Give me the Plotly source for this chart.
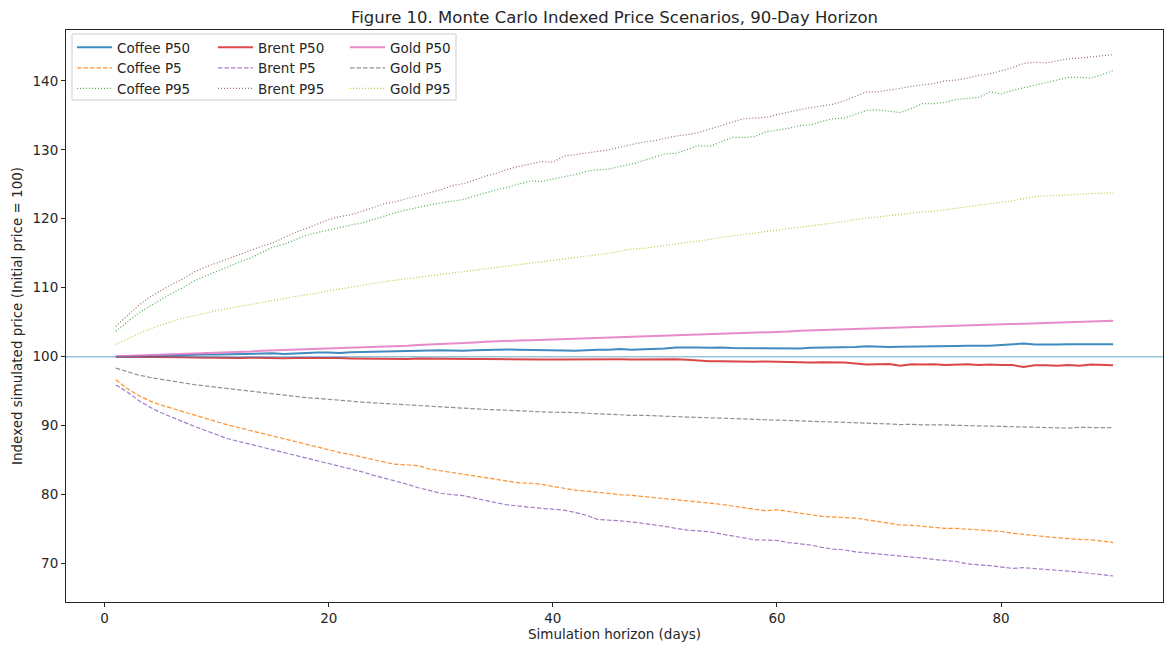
import plotly.graph_objects as go

days = list(range(1, 91))

coffee_p50 = [100.0, 100.05, 100.1, 100.1, 100.15, 100.2, 100.2, 100.25, 100.3, 100.3,
              100.35, 100.4, 100.4, 100.45, 100.5, 100.4, 100.5, 100.55, 100.6, 100.6,
              100.55, 100.65, 100.7, 100.7, 100.75, 100.8, 100.8, 100.85, 100.9, 100.95,
              100.9, 100.85, 100.95, 101.0, 101.0, 101.05, 101.0, 101.0, 100.95, 100.9,
              100.9, 100.85, 100.95, 101.0, 101.0, 101.1, 101.0, 101.05, 101.1, 101.2,
              101.35, 101.4, 101.35, 101.3, 101.35, 101.25, 101.25, 101.15, 101.15, 101.2,
              101.25, 101.2, 101.3, 101.3, 101.4, 101.3, 101.4, 101.5, 101.4, 101.4,
              101.45, 101.45, 101.5, 101.5, 101.5, 101.55, 101.6, 101.55, 101.6, 101.7,
              101.8, 101.9, 101.75, 101.7, 101.75, 101.8, 101.8, 101.75, 101.8, 101.8]
coffee_p5 = [96.65, 95.4, 94.4, 93.6, 93.0, 92.5, 92.0, 91.5, 91.0, 90.5,
             90.1, 89.7, 89.3, 88.9, 88.5, 88.1, 87.7, 87.3, 86.9, 86.4,
             86.1, 85.8, 85.4, 85.0, 84.7, 84.4, 84.3, 84.2, 83.7, 83.45,
             83.2, 82.9, 82.7, 82.45, 82.2, 82.0, 81.7, 81.65, 81.5, 81.2,
             80.9, 80.65, 80.5, 80.3, 80.2, 80.0, 79.9, 79.75, 79.6, 79.4,
             79.3, 79.1, 78.95, 78.8, 78.6, 78.35, 78.15, 77.85, 77.65, 77.8,
             77.55, 77.3, 77.05, 76.85, 76.75, 76.7, 76.6, 76.35, 76.1, 75.8,
             75.6, 75.55, 75.4, 75.15, 75.1, 75.1, 75.0, 74.9, 74.85, 74.65,
             74.4, 74.2, 74.0, 73.9, 73.75, 73.6, 73.5, 73.45, 73.25, 73.05]
coffee_p95 = [103.7, 105.0, 106.3, 107.3, 108.3, 109.2, 110.0, 111.0, 111.7, 112.4,
              113.1, 113.7, 114.3, 115.1, 115.9, 116.3, 117.0, 117.6, 118.0, 118.4,
              118.8, 119.1, 119.4, 119.9, 120.5, 120.9, 121.3, 121.7, 122.0, 122.3,
              122.5, 122.8, 123.3, 123.8, 124.2, 124.6, 125.0, 125.5, 125.4, 125.8,
              126.1, 126.4, 126.9, 127.1, 127.2, 127.6, 127.9, 128.4, 128.9, 129.4,
              129.5, 130.0, 130.6, 130.5, 131.1, 131.8, 131.8, 131.9, 132.6, 132.8,
              133.1, 133.5, 133.6, 134.1, 134.5, 134.6, 135.1, 135.7, 135.8, 135.6,
              135.4, 136.0, 136.7, 136.7, 136.9, 137.3, 137.5, 137.6, 138.4, 138.1,
              138.6, 139.0, 139.3, 139.8, 140.1, 140.5, 140.5, 140.4, 140.9, 141.5]
brent_p50 = [100.0, 100.0, 99.98, 99.95, 99.95, 99.9, 99.92, 99.88, 99.85, 99.87,
             99.85, 99.82, 99.85, 99.8, 99.82, 99.78, 99.8, 99.82, 99.75, 99.78,
             99.8, 99.75, 99.72, 99.76, 99.7, 99.72, 99.68, 99.72, 99.7, 99.65,
             99.68, 99.7, 99.65, 99.68, 99.66, 99.55, 99.6, 99.62, 99.58, 99.6,
             99.62, 99.58, 99.6, 99.65, 99.6, 99.62, 99.6, 99.63, 99.58, 99.65,
             99.62, 99.55, 99.4, 99.35, 99.35, 99.3, 99.32, 99.28, 99.32, 99.25,
             99.2, 99.22, 99.15, 99.2, 99.22, 99.15, 99.0, 98.85, 98.9, 98.95,
             98.7, 98.9, 98.85, 98.9, 98.8, 98.85, 98.9, 98.8, 98.85, 98.78,
             98.8, 98.5, 98.75, 98.75, 98.7, 98.8, 98.7, 98.85, 98.75, 98.75]
brent_p5 = [95.9, 94.9, 93.7, 92.7, 91.9, 91.2, 90.5, 89.9, 89.3, 88.7,
            88.1, 87.7, 87.3, 86.9, 86.5, 86.1, 85.7, 85.3, 84.9, 84.5,
            84.1, 83.8, 83.3, 82.8, 82.4, 82.0, 81.5, 81.0, 80.6, 80.2,
            80.0, 79.85, 79.5, 79.1, 78.8, 78.5, 78.3, 78.1, 78.0, 77.9,
            77.75, 77.4, 77.0, 76.4, 76.35, 76.2, 76.05, 75.85, 75.6, 75.4,
            75.1, 74.85, 74.75, 74.6, 74.3, 74.0, 73.7, 73.45, 73.4, 73.35,
            73.05, 72.85, 72.7, 72.35, 72.1, 72.0, 71.7, 71.55, 71.4, 71.25,
            71.2, 71.0, 70.8, 70.6, 70.5, 70.3, 69.95, 69.85, 69.7, 69.5,
            69.3, 69.4, 69.3, 69.15, 69.1, 68.9, 68.75, 68.6, 68.4, 68.2]
brent_p95 = [104.4, 105.9, 107.4, 108.6, 109.6, 110.5, 111.3, 112.3, 113.0, 113.6,
             114.3, 114.9, 115.4, 116.0, 116.5, 117.3, 118.0, 118.6, 119.3, 119.9,
             120.3, 120.6, 121.1, 121.6, 122.2, 122.5, 122.9, 123.3, 123.8, 124.2,
             124.8, 125.1, 125.6, 126.2, 126.6, 127.2, 127.6, 128.0, 128.3, 128.2,
             129.1, 129.3, 129.5, 129.8, 130.0, 130.4, 130.8, 131.1, 131.3, 131.7,
             132.0, 132.2, 132.5, 133.0, 133.5, 134.0, 134.5, 134.6, 134.7, 135.1,
             135.5, 135.8, 136.1, 136.3, 136.6, 137.1, 137.8, 138.4, 138.4, 138.6,
             138.9, 139.2, 139.4, 139.6, 140.0, 140.1, 140.4, 140.8, 141.0, 141.4,
             141.9, 142.5, 142.7, 142.6, 142.9, 143.2, 143.3, 143.5, 143.6, 143.8]
gold_p50 = [100.05, 100.1, 100.2, 100.25, 100.3, 100.35, 100.4, 100.5, 100.55, 100.6,
            100.65, 100.7, 100.75, 100.85, 100.9, 100.95, 101.05, 101.1, 101.15, 101.2,
            101.25, 101.3, 101.35, 101.45, 101.5, 101.55, 101.6, 101.7, 101.75, 101.8,
            101.85, 101.95, 102.05, 102.15, 102.25, 102.3, 102.35, 102.4, 102.45, 102.5,
            102.55, 102.6, 102.65, 102.7, 102.75, 102.85, 102.95, 103.0, 103.05, 103.1,
            103.15, 103.2, 103.25, 103.3, 103.35, 103.4, 103.45, 103.5, 103.55, 103.6,
            103.65, 103.75, 103.8, 103.85, 103.9, 103.95, 104.0, 104.05, 104.1, 104.2,
            104.25, 104.3, 104.35, 104.4, 104.45, 104.5, 104.55, 104.6, 104.65, 104.7,
            104.75, 104.8, 104.85, 104.9, 104.95, 105.0, 105.05, 105.1, 105.15, 105.2]
gold_p5 = [98.35, 97.8, 97.35, 97.0, 96.7, 96.45, 96.2, 95.95, 95.75, 95.55,
           95.35, 95.15, 94.95, 94.75, 94.55, 94.4, 94.2, 94.05, 93.95, 93.85,
           93.7, 93.55, 93.4, 93.3, 93.2, 93.05, 92.95, 92.85, 92.75, 92.65,
           92.6, 92.5, 92.4, 92.35, 92.3, 92.2, 92.15, 92.1, 92.0, 91.95,
           91.95, 91.9, 91.8, 91.7, 91.65, 91.55, 91.5, 91.5, 91.4, 91.35,
           91.3, 91.25, 91.2, 91.15, 91.1, 91.05, 90.95, 90.9, 90.8, 90.8,
           90.75, 90.75, 90.7, 90.65, 90.6, 90.55, 90.5, 90.4, 90.3, 90.25,
           90.15, 90.2, 90.1, 90.15, 90.1, 90.05, 90.0, 89.95, 89.9, 89.85,
           89.85, 89.85, 89.75, 89.65, 89.6, 89.65, 89.75, 89.75, 89.7, 89.7]
gold_p95 = [101.8, 102.6, 103.3, 104.0, 104.6, 105.1, 105.6, 105.9, 106.3, 106.7,
            107.0, 107.3, 107.6, 107.9, 108.2, 108.4, 108.7, 109.0, 109.2, 109.6,
            109.8, 110.1, 110.4, 110.6, 110.9, 111.1, 111.3, 111.6, 111.8, 111.9,
            112.2, 112.3, 112.5, 112.7, 112.9, 113.1, 113.3, 113.5, 113.8, 114.0,
            114.1, 114.3, 114.5, 114.8, 115.0, 115.3, 115.6, 115.7, 115.9, 116.1,
            116.3, 116.5, 116.8, 117.0, 117.3, 117.5, 117.7, 118.0, 118.2, 118.3,
            118.5, 118.8, 119.0, 119.2, 119.4, 119.6, 119.9, 120.1, 120.3, 120.5,
            120.7, 120.8, 121.0, 121.1, 121.3, 121.5, 121.7, 122.0, 122.2, 122.4,
            122.6, 122.9, 123.2, 123.3, 123.4, 123.4, 123.5, 123.6, 123.7, 123.8]

series = [
    ("Coffee P50", coffee_p50, "#1f77b4", "solid", "legend"),
    ("Coffee P5", coffee_p5, "#ff7f0e", "dashed", "legend"),
    ("Coffee P95", coffee_p95, "#2ca02c", "dotted", "legend"),
    ("Brent P50", brent_p50, "#d62728", "solid", "legend2"),
    ("Brent P5", brent_p5, "#9467bd", "dashed", "legend2"),
    ("Brent P95", brent_p95, "#8c564b", "dotted", "legend2"),
    ("Gold P50", gold_p50, "#e377c2", "solid", "legend3"),
    ("Gold P5", gold_p5, "#7f7f7f", "dashed", "legend3"),
    ("Gold P95", gold_p95, "#bcbd22", "dotted", "legend3"),
]

FONT = "DejaVu Sans"
TXT = "#262626"
fig = go.Figure()
for name, vals, color, style, lg in series:
    if style == "solid":
        line = dict(color=color, width=2)
    elif style == "dashed":
        line = dict(color=color, width=1.2, dash="4.5px,2px")
    else:
        line = dict(color=color, width=1.2, dash="1px,2px")
    fig.add_trace(go.Scatter(x=days, y=vals, mode="lines", name=name, line=line,
                             opacity=0.85, legend=lg))

fig.add_hline(y=100, line=dict(color="rgba(31,119,180,0.45)", width=1.5))

W, H = 1173, 652
ml, mr, mt, mb = 66, 10, 30, 50
pw, ph = W - ml - mr, H - mt - mb

def px_x(p):
    return (p - ml) / pw

def px_y(p):
    return (H - mb - p) / ph

legend_common = dict(font=dict(family=FONT, size=13.5, color=TXT), bgcolor="rgba(0,0,0,0)",
                     borderwidth=0, xanchor="left", yanchor="top", tracegroupgap=0,
                     itemwidth=35, y=px_y(32))
fig.update_layout(
    width=W, height=H,
    margin=dict(l=ml, r=mr, t=mt, b=mb),
    paper_bgcolor="white", plot_bgcolor="white",
    font=dict(family=FONT, size=13.5, color=TXT),
    title=dict(text="Figure 10. Monte Carlo Indexed Price Scenarios, 90-Day Horizon",
               x=px_x((ml + W - mr) / 2), xref="paper", xanchor="center",
               y=1 - 17 / H, yref="container", yanchor="middle",
               font=dict(family=FONT, size=16.5, color=TXT)),
    showlegend=True,
    legend=dict(x=px_x(72), **legend_common),
    legend2=dict(x=px_x(213), **legend_common),
    legend3=dict(x=px_x(345), **legend_common),
    xaxis=dict(range=[-3.45, 94.45], tickvals=[0, 20, 40, 60, 80], showgrid=False, zeroline=False,
               showline=True, linecolor=TXT, linewidth=1, mirror=True,
               ticks="outside", ticklen=4, tickcolor=TXT,
               tickfont=dict(family=FONT, size=13.5, color=TXT),
               title=dict(text="Simulation horizon (days)", standoff=4,
                          font=dict(family=FONT, size=13.5, color=TXT))),
    yaxis=dict(range=[64.43, 147.37], tickvals=[70, 80, 90, 100, 110, 120, 130, 140],
               showgrid=False, zeroline=False,
               showline=True, linecolor=TXT, linewidth=1, mirror=True,
               ticks="outside", ticklen=4, tickcolor=TXT,
               tickfont=dict(family=FONT, size=13.5, color=TXT),
               title=dict(text="Indexed simulated price (Initial price = 100)", standoff=6,
                          font=dict(family=FONT, size=13.5, color=TXT))),
)
fig.update_xaxes(automargin=False)
fig.update_yaxes(automargin=False)

fig.add_shape(type="rect", xref="paper", yref="paper",
              x0=px_x(72), x1=px_x(456), y0=px_y(100), y1=px_y(34),
              line=dict(color="#cccccc", width=1), fillcolor="rgba(255,255,255,0.8)",
              layer="below")

fig.write_html("out.html")
